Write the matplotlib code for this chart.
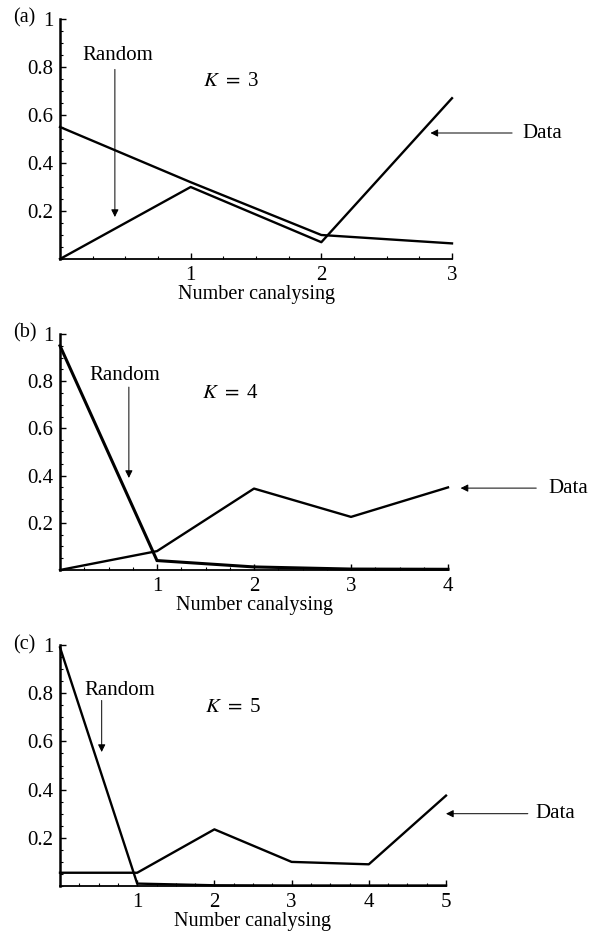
import matplotlib
matplotlib.use('Agg')
import matplotlib.pyplot as plt
import numpy as np

plt.rcParams['font.family'] = ['Liberation Serif', 'DejaVu Serif']
plt.rcParams['mathtext.fontset'] = 'stix'

# values, one panel per K
k_values = [3, 4, 5]
panel_tags = ['(a)', '(b)', '(c)']

random_k3 = [0.55, 0.32, 0.10, 0.065]
data_k3 = [0.0, 0.30, 0.07, 0.67]

random_k4 = [0.95, 0.04, 0.013, 0.004, 0.003]
data_k4 = [0.0, 0.08, 0.345, 0.225, 0.35]

random_k5 = [0.99, 0.01, 0.003, 0.002, 0.002, 0.002]
data_k5 = [0.055, 0.055, 0.235, 0.10, 0.09, 0.375]

random_series = [random_k3, random_k4, random_k5]
data_series = [data_k3, data_k4, data_k5]

# annotation spots (data coords): random label, random arrow x/top/bottom,
# K label, data label, data arrow start/end x
random_text = [(0.44, 0.85), (0.67, 0.826), (0.78, 0.813)]
random_arrow = [(0.42, 0.79, 0.175), (0.71, 0.775, 0.39), (0.54, 0.77, 0.556)]
k_text = [(1.31, 0.74), (1.76, 0.75), (2.24, 0.74)]
data_text = [(3.54, 0.525), (5.03, 0.347), (6.16, 0.30)]
data_arrow = [(3.46, 2.835), (4.91, 4.13), (6.06, 5.0)]

W, H = 594, 933
# pixel boxes for each axes: left, right(x=N), top(y=1), bottom(y=0)
boxes = [(60, 452, 19, 259), (60, 448, 334, 570), (60, 446, 645, 886)]
tag_y = [18, 333, 645]

fig = plt.figure(figsize=(W / 100, H / 100), dpi=100)
fs = 14.5

for i, K in enumerate(k_values):
    l, r, t, b = boxes[i]
    ax = fig.add_axes([l / W, 1 - b / H, (r - l) / W, (b - t) / H])
    x = np.arange(K + 1)
    ax.plot(x, random_series[i], color='black', lw=2.2 if K == 4 else 1.7,
            solid_joinstyle='miter', clip_on=False)
    ax.plot(x, data_series[i], color='black', lw=1.7, clip_on=False)

    ax.set_xlim(0, K)
    ax.set_ylim(0, 1)
    for s in ['top', 'right']:
        ax.spines[s].set_visible(False)
    ax.spines['left'].set_linewidth(1.8)
    ax.spines['bottom'].set_linewidth(1.3)

    ax.set_xticks(range(1, K + 1))
    ax.set_xticks(np.arange(0, K + 0.01, 0.25), minor=True)
    ax.set_yticks([0.2, 0.4, 0.6, 0.8, 1.0])
    ax.set_yticklabels(['0.2', '0.4', '0.6', '0.8', '1'])
    ax.set_yticks(np.arange(0, 1.001, 0.05), minor=True)
    ax.tick_params(which='major', direction='in', length=4, width=1.0,
                   labelsize=15, pad=5)
    ax.tick_params(which='minor', direction='in', length=2, width=0.8)
    ax.set_xlabel('Number canalysing', fontsize=fs, labelpad=0)

    tx, ty = random_text[i]
    ax.text(tx, ty, 'Random', fontsize=15, ha='center', va='center')
    ax_x, a_top, a_bot = random_arrow[i]
    ax.annotate('', xy=(ax_x, a_bot), xytext=(ax_x, a_top),
                arrowprops=dict(arrowstyle='-|>', lw=0.7, color='black',
                                mutation_scale=11, shrinkA=0, shrinkB=0),
                annotation_clip=False)

    kx, ky = k_text[i]
    ax.text(kx, ky, r'$K$ $=$ %d' % K, fontsize=15, ha='center', va='center')

    dx, dy = data_text[i]
    ax.text(dx, dy, 'Data', fontsize=15, ha='left', va='center', clip_on=False)
    a0, a1 = data_arrow[i]
    ax.annotate('', xy=(a1, dy), xytext=(a0, dy),
                arrowprops=dict(arrowstyle='-|>', lw=0.7, color='black',
                                mutation_scale=11, shrinkA=0, shrinkB=0),
                annotation_clip=False)

    fig.text(13 / W, 1 - tag_y[i] / H, panel_tags[i], fontsize=fs,
             ha='left', va='center')

fig.savefig('out.png', dpi=100, facecolor='white')
